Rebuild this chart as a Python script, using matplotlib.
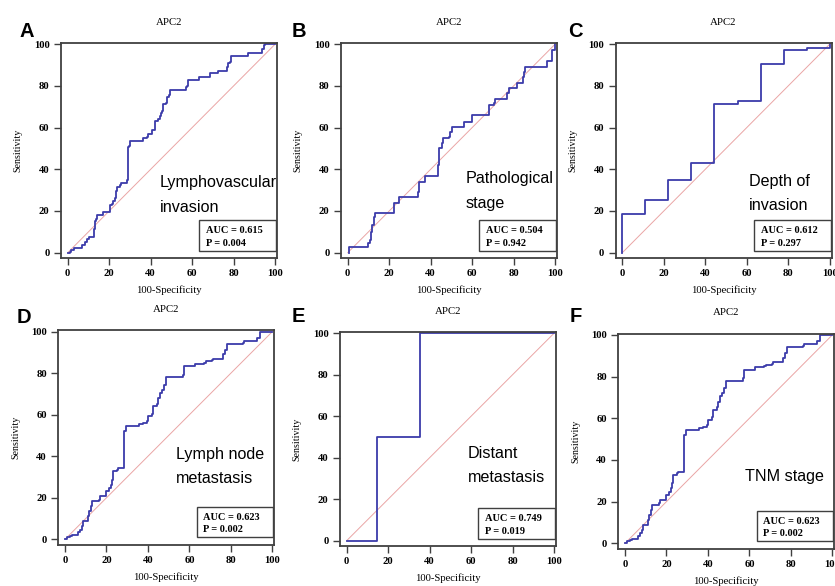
import matplotlib
matplotlib.use('Agg')
import matplotlib.pyplot as plt
from matplotlib.patches import Rectangle

plt.rcParams['font.family'] = 'Liberation Serif'
plt.rcParams['font.weight'] = 'bold'

# ROC curves (100-Specificity, Sensitivity)
lvi_fpr = [0, 1, 1.5, 3, 3.2, 6, 7, 8, 8.3, 9.3, 9.5, 10.3, 12.2, 12.5, 13, 13.2, 13.8, 14, 17, 17.2,
           20, 20.5, 21.5, 22, 23, 23.2, 23.8, 25, 25.5, 28, 28.5, 29, 29, 29.5, 30, 36, 36.5, 38, 38.5, 40.5,
           40.5, 42, 42.2, 43.5, 44.5, 45, 45.5, 46, 47.5, 48, 49, 49.5, 56.5, 57, 57.5, 58, 63, 63.5, 68, 68.5,
           72, 72.5, 76.5, 77, 77.5, 78.5, 79, 86.5, 87, 93, 93.5, 94.5, 95, 100]
lvi_tpr = [0, 0.5, 1.3, 1.5, 2.2, 2.2, 3.7, 3.8, 5.3, 5.5, 6.8, 7.7, 7.7, 11.5, 12, 15, 16, 18, 18, 19.5,
           19.5, 23, 23.5, 25, 26, 29.5, 31.5, 32.5, 33.5, 33.5, 35, 35, 50.5, 51, 53.5, 53.5, 55, 55.5, 57, 57,
           59, 59.5, 63, 64, 65.5, 67, 68, 71.5, 72, 74.5, 75.5, 78, 78, 79.5, 80, 83, 83, 84.5, 84.5, 86,
           86, 87, 87, 89, 91, 91.5, 94.5, 94.5, 96, 96, 97.5, 99.5, 100, 100]

stage_fpr = [0.5, 0.5, 9.8, 10, 10.6, 11, 11.4, 11.7, 12.5, 12.9, 13.3, 21.9, 22.2, 24.6, 24.9, 33.4, 34, 34.2,
             36.7, 37.1, 43.1, 43.4, 43.9, 45, 45.5, 46, 48.7, 49.5, 50.3, 55.5, 56, 59.6, 60, 67.5, 68, 70.4,
             71, 76.7, 77, 78, 81, 81.5, 84, 84.4, 85.2, 85.5, 96, 96.3, 97.9, 98.4, 99.2, 100]
stage_tpr = [0, 2.6, 2.6, 4.5, 6, 7.7, 10, 13.3, 15, 17.3, 18.9, 18.9, 23.7, 23.7, 26.6, 26.6, 29.3, 34,
             34, 36.8, 36.8, 42, 50, 50, 52.5, 55, 55.4, 58, 60.2, 60.2, 62.9, 62.9, 66, 66, 70.9, 72,
             73.6, 73.6, 76.5, 79, 79, 81.6, 81.6, 84.5, 86.9, 89.3, 89.3, 92.2, 92.2, 97.3, 97.3, 100]

doi_fpr = [0, 0, 11.1, 11.1, 22.2, 22.2, 33.3, 33.3, 44.4, 44.4, 55.6, 55.6, 66.7, 66.7, 77.8, 77.8, 88.9, 88.9, 100, 100]
doi_tpr = [0, 18.4, 18.4, 25.3, 25.3, 34.9, 34.9, 42.9, 42.9, 71.4, 71.4, 72.8, 72.8, 90.4, 90.4, 97.3, 97.3, 98.1, 98.1, 100]

lnm_fpr = [0, 1, 2.4, 3.2, 5.6, 6.4, 7.2, 8, 8.8, 10.5, 11.3, 11.7, 12.4, 13.2, 16.6, 17, 19.6, 20, 21.4, 22.2,
           22.5, 23, 25.2, 25.7, 28.1, 28.5, 29.3, 34.9, 35.7, 37.5, 39.7, 40.2, 41.8, 42.3, 44.2, 45, 45.8, 46.6,
           47.7, 48.7, 55.8, 56.8, 57.4, 61.9, 62.7, 67, 67.8, 70.7, 71.5, 75.6, 76.4, 77.2, 78, 85.7, 86.3, 92.1,
           92.8, 94, 100]
lnm_tpr = [0, 1, 1.4, 2.2, 2.2, 3.5, 4.7, 6.3, 8.7, 8.7, 11.1, 13.5, 15.9, 18.6, 19.1, 20.7, 20.7, 23.4, 24.7, 26.3,
           28.7, 32.7, 33.5, 34.3, 34.3, 52, 54.4, 54.4, 55.5, 56, 56.8, 59.2, 60.4, 64, 65.2, 68, 70.5, 72.1,
           74.5, 78, 78, 79.3, 83.3, 83.3, 84.4, 84.9, 85.7, 86.2, 87, 87, 89, 91.4, 94.2, 94.7, 95.5, 95.5,
           97.1, 100, 100]

dm_fpr = [0, 14.7, 14.7, 35.3, 35.3, 100]
dm_tpr = [0, 0, 50, 50, 100, 100]

# TNM stage curve is the same as lymph node metastasis
tnm_fpr = lnm_fpr
tnm_tpr = lnm_tpr

letters = ['A', 'B', 'C', 'D', 'E', 'F']
labels = [['Lymphovascular', 'invasion'], ['Pathological', 'stage'], ['Depth of', 'invasion'],
          ['Lymph node', 'metastasis'], ['Distant', 'metastasis'], ['TNM stage']]
auc = ['0.615', '0.504', '0.612', '0.623', '0.749', '0.623']
pval = ['0.004', '0.942', '0.297', '0.002', '0.019', '0.002']
curves = [(lvi_fpr, lvi_tpr), (stage_fpr, stage_tpr), (doi_fpr, doi_tpr),
          (lnm_fpr, lnm_tpr), (dm_fpr, dm_tpr), (tnm_fpr, tnm_tpr)]

W, H = 835, 586
f = plt.figure(figsize=(W / 100, H / 100), dpi=100)

# axes placement in pixels (left, top, height)
rects = [(60.9, 42.8, 215.3), (340.9, 42.8, 215.3), (615.5, 42.8, 215.3),
         (58.2, 330.2, 214.5), (339.9, 331.8, 214.2), (618.2, 333.5, 215.2)]
label_pos = [(44.5, 31.5), (56.9, 33.3), (61.2, 32.1), (53.4, 38.7), (58.3, 40), (58.1, 30)]
letter_pos = [(19, 36.7), (291.7, 36.7), (568, 36.7), (16.7, 323.3), (291.7, 321.7), (570, 322)]
frame_col = '#404040'

for i in range(6):
    l, t, h = rects[i]
    ax = f.add_axes([l / W, 1 - (t + h) / H, 216.2 / W, h / H])
    ax.set_xlim(-3.3, 101)
    ax.set_ylim(-2.6, 100.7)
    ax.plot([0, 100], [0, 100], color='#eaa5a5', lw=0.7)
    ax.plot(curves[i][0], curves[i][1], color='#3c3caa', lw=1.3, drawstyle='steps-post')
    for s in ax.spines.values():
        s.set_color(frame_col)
        s.set_linewidth(1.3)
    ax.set_xticks([0, 20, 40, 60, 80, 100])
    ax.set_yticks([0, 20, 40, 60, 80, 100])
    ax.tick_params(length=5, width=1, color=frame_col, labelsize=7.7, pad=3.2)
    ax.set_title('APC2', fontsize=7.8, pad=13)
    ax.set_xlabel('100-Specificity', fontsize=7.7, labelpad=5)
    ax.set_ylabel('Sensitivity', fontsize=7.2, labelpad=8)

    x0, y0 = label_pos[i]
    for k, line in enumerate(labels[i]):
        ax.text(x0, y0 - 11.8 * k, line, family='Liberation Sans', weight='normal',
                fontsize=11.6, va='baseline')

    ax.add_patch(Rectangle((63.5, 1.0), 37, 14.5, fill=False, edgecolor=frame_col, lw=1.0))
    ax.text(66.7, 10.6, 'AUC = ' + auc[i], fontsize=7.5, va='center')
    ax.text(66.7, 4.5, 'P = ' + pval[i], fontsize=7.5, va='center')

    lx, ly = letter_pos[i]
    f.text(lx / W, 1 - ly / H, letters[i], family='Liberation Sans', weight='bold',
           fontsize=14.5, va='baseline')

f.savefig('out.png', dpi=100)
